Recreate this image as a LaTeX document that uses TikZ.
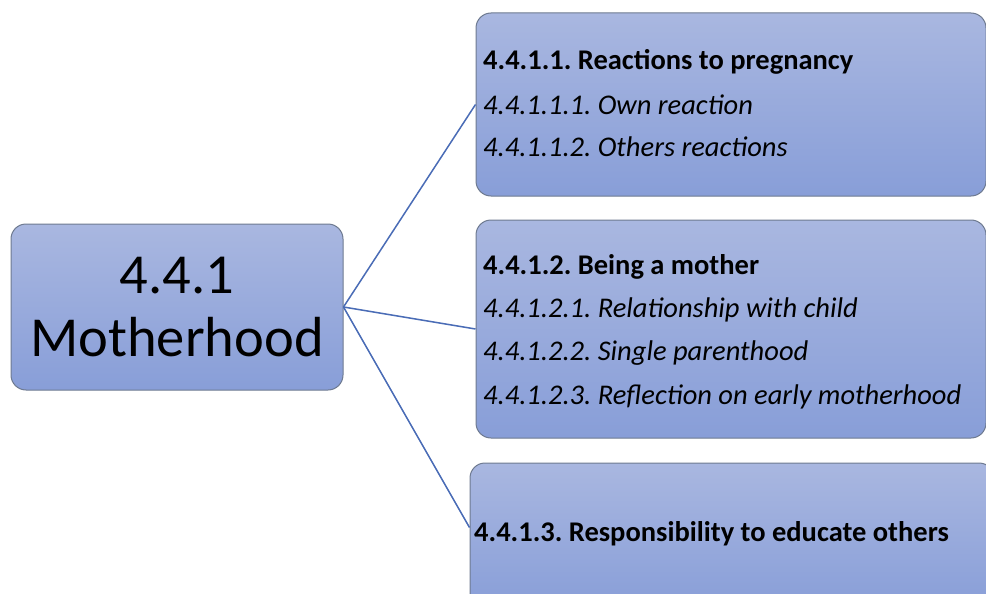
\documentclass[tikz,border=0pt]{standalone}
\usepackage{fontspec}
\setmainfont{Carlito}
\usetikzlibrary{calc}
\frenchspacing
\begin{document}
\definecolor{boxtop}{HTML}{A9B7E0}
\definecolor{boxbot}{HTML}{889ED8}
\definecolor{boxline}{HTML}{6E7A90}
\definecolor{linkblue}{HTML}{4A6CB6}
\begin{tikzpicture}[x=1pt,y=-1pt,
  topicbox/.style={draw=boxline, line width=1pt, rounded corners=15pt,
    top color=boxtop, bottom color=boxbot, inner sep=0pt},
  link/.style={draw=linkblue, line width=1.5pt},
  headline/.style={anchor=base west, inner sep=0pt, font=\fontsize{28.5}{34}\selectfont\bfseries},
  subline/.style={anchor=base west, inner sep=0pt, font=\fontsize{28.5}{34}\selectfont\itshape}]
\useasboundingbox (0,0) rectangle (986,594);
\clip (0,0) rectangle (986,594);

% central topic
\node[topicbox, minimum width=332pt, minimum height=166pt, align=center,
  font=\fontsize{56.5}{63}\selectfont] (main) at (177,307) {4.4.1\\Motherhood};

% sub-topic boxes
\node[topicbox, minimum width=510pt, minimum height=183pt] (b1) at (731,104.5) {};
\node[topicbox, minimum width=510pt, minimum height=218pt] (b2) at (731,329) {};
\node[topicbox, minimum width=524pt, minimum height=146pt] (b3) at (732,536) {};
\coordinate (b3in) at ($(b3.north west)+(0,65)$);

% connectors
\draw[link] (main.east) -- (b1.west);
\draw[link] (main.east) -- (b2.west);
\draw[link] (main.east) -- (b3in);

% texts of the first box
\node[headline] (t11) at (483,70) {4.4.1.1. Reactions to pregnancy};
\node[subline] (t12) at (483,114) {4.4.1.1.1. Own reaction};
\node[subline] (t13) at (483,157) {4.4.1.1.2. Others reactions};

% texts of the second box
\node[headline] (t21) at (483,274) {4.4.1.2. Being a mother};
\node[subline] (t22) at (483,317) {4.4.1.2.1. Relationship with child};
\node[subline] (t23) at (483,360) {4.4.1.2.2. Single parenthood};
\node[subline] (t24) at (483,404) {4.4.1.2.3. Reflection on early motherhood};

% text of the third box
\node[headline] (t31) at (474,541) {4.4.1.3. Responsibility to educate others};
\end{tikzpicture}
\end{document}
